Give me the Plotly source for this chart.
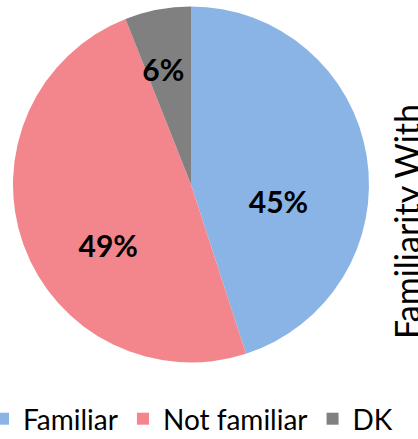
import plotly.graph_objects as go

categories = ["Familiar", "Not familiar", "DK"]
values = [45, 49, 6]
colors = ["#8AB4E6", "#F2868C", "#808080"]
title_text = "Familiarity With"

W, H = 418, 439
MB = 45                     # bottom margin (legend lives there)
PH = H - MB                 # plot-area height in px
cx, cy, r = 191, 184.5, 178
# label layer (transparent pie used only to place the percentage texts)
lcx, lcy, lr = 191, 215, 176


def ydom(c, rad):
    return [1 - (c + rad) / PH, 1 - (c - rad) / PH]


fig = go.Figure()
fig.add_trace(go.Pie(
    labels=categories,
    values=values,
    sort=False,
    direction="clockwise",
    rotation=0,
    marker=dict(colors=colors, line=dict(width=0)),
    textinfo="none",
    domain=dict(x=[(cx - r) / W, (cx + r) / W], y=ydom(cy, r)),
    hoverinfo="label+percent",
))
fig.add_trace(go.Pie(
    labels=categories,
    values=values,
    sort=False,
    direction="clockwise",
    rotation=0,
    marker=dict(colors=["rgba(0,0,0,0)"] * len(values), line=dict(width=0)),
    texttemplate="%{percent:.0%}",
    textposition="inside",
    insidetextorientation="horizontal",
    textfont=dict(family="Lato", size=30, color="black", weight="bold"),
    domain=dict(x=[(lcx - lr) / W, (lcx + lr) / W], y=ydom(lcy, lr)),
    hoverinfo="skip",
    showlegend=False,
))

fig.add_annotation(
    text=title_text, xref="paper", yref="paper",
    x=406 / W, y=1 - 222 / PH, xanchor="center", yanchor="middle",
    textangle=-90, showarrow=False,
    font=dict(family="Lato", size=34, color="black"),
)

fig.update_layout(
    width=W, height=H,
    margin=dict(l=0, r=0, t=0, b=MB, autoexpand=False),
    paper_bgcolor="white", plot_bgcolor="white",
    showlegend=True,
    legend=dict(
        orientation="h", x=-17 / W, xanchor="left", y=1 - 419 / PH, yanchor="middle",
        font=dict(family="Lato", size=28, color="black"),
        itemwidth=30, traceorder="normal", bgcolor="rgba(0,0,0,0)",
    ),
)

fig.write_html("out.html", config={"displayModeBar": False},
               post_script="document.body.style.margin='0px';")
